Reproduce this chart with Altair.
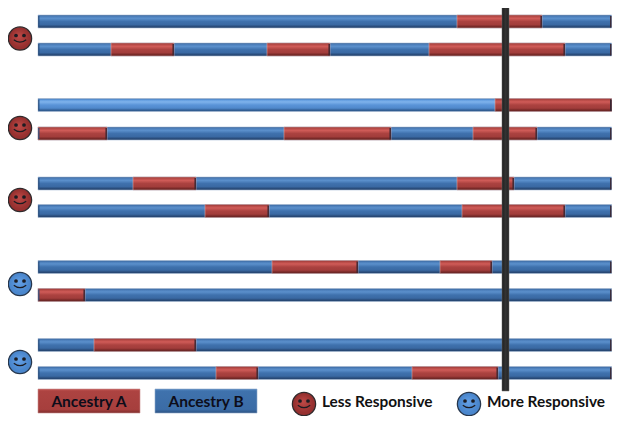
import altair as alt
import pandas as pd

# Ancestry tracks: vertical position of each track
track_y = [21.5, 49.5, 105, 133.5, 183.5, 211, 267, 295, 345, 373]
track_start = 38
track_end = 611.6
track_half = 6.5

# Base colour of each track
track_kind = ["blue", "blue", "light", "blue", "blue", "blue", "blue", "blue", "blue", "blue"]

# Ancestry A stretches on each track
red_start = [[457], [111, 267, 429], [495], [38, 284, 473], [133, 457], [205, 462], [272, 440], [38], [94], [216, 412]]
red_end = [[542], [174, 330, 565], [611.6], [107, 391, 537], [196, 514], [269, 565], [358, 492], [85], [196], [258, 498]]

# Marker line
marker_x = [502, 509]
marker_y = [4, 391]

# Responder faces
face_x = [20, 20, 20, 20, 20, 304, 469]
face_y = [38.5, 128, 200, 284, 362, 404, 404]
face_kind = ["red", "red", "red", "blue", "blue", "red", "blue"]

# Legend
legend_labels = ["Ancestry A", "Ancestry B"]
legend_x1 = [38, 155]
legend_x2 = [140, 257]
legend_y1 = [389, 389]
legend_y2 = [413, 413]
legend_kind = ["red", "blue"]
caption_labels = ["Less Responsive", "More Responsive"]
caption_x = [322, 487]
caption_y = [402, 402]

X = alt.Scale(domain=[8, 612], range=[0, 604])
Y = alt.Scale(domain=[8, 416], range=[0, 408])


def grad(stops):
    return alt.Gradient(
        gradient="linear", x1=0, x2=0, y1=0, y2=1,
        stops=[alt.GradientStop(offset=o, color=c) for o, c in stops],
    )


RED = grad([(0, "#8f3532"), (0.1, "#b34744"), (0.26, "#d05c58"), (0.5, "#ab4240"), (0.74, "#a23d3b"), (0.88, "#7a2a29"), (1, "#5e2322")])
BLUE = grad([(0, "#2f5a8e"), (0.1, "#4a7cb8"), (0.26, "#5b90cc"), (0.5, "#3f71ad"), (0.74, "#3a69a3"), (0.88, "#2a4d7c"), (1, "#223f66")])
LIGHT = grad([(0, "#356398"), (0.1, "#5f9ade"), (0.26, "#7fb3ec"), (0.5, "#5a94d8"), (0.74, "#5089cc"), (0.88, "#35639b"), (1, "#2a5080")])


def rects(df, fill, stroke):
    return alt.Chart(df).mark_rect(color=fill, stroke=stroke, strokeWidth=0.6).encode(
        x=alt.X("x1:Q", scale=X, axis=None),
        x2="x2:Q",
        y=alt.Y("y1:Q", scale=Y, axis=None),
        y2="y2:Q",
    )


def rules(df, color, width):
    return alt.Chart(df).mark_rule(color=color, strokeWidth=width).encode(
        x=alt.X("x:Q", scale=X, axis=None),
        y=alt.Y("y1:Q", scale=Y, axis=None),
        y2="y2:Q",
    )


base = pd.DataFrame({
    "x1": track_start, "x2": track_end,
    "y1": [y - track_half for y in track_y],
    "y2": [y + track_half for y in track_y],
    "kind": track_kind,
})

red_rows = []
for y, starts, ends in zip(track_y, red_start, red_end):
    for s, e in zip(starts, ends):
        red_rows.append({"x1": s, "x2": e, "y1": y - track_half, "y2": y + track_half})
reds = pd.DataFrame(red_rows)

end_rows = [{"x": r["x2"] - 0.8, "y1": r["y1"] + 1, "y2": r["y2"] - 0.5} for r in red_rows]
end_rows += [{"x": track_end - 0.8, "y1": y - track_half + 1, "y2": y + track_half - 0.5} for y in track_y]
ends_df = pd.DataFrame(end_rows)
start_df = pd.DataFrame([{"x": track_start + 0.8, "y1": y - track_half + 1, "y2": y + track_half - 1} for y in track_y])

layers = [
    rects(base[base.kind == "blue"], BLUE, "#a9bdd6"),
    rects(base[base.kind == "light"], LIGHT, "#a9bdd6"),
    rects(reds, RED, "#d3a9a8"),
    rules(ends_df, "#3a2530", 1.4),
    rules(start_df, "#2c4f7c", 1.2),
]

# Marker
marker = pd.DataFrame({"x1": [marker_x[0]], "x2": [marker_x[1]], "y1": [marker_y[0]], "y2": [marker_y[1]]})
layers.append(
    alt.Chart(marker).mark_rect(
        color=alt.Gradient(
            gradient="linear", x1=0, x2=1, y1=0, y2=0,
            stops=[
                alt.GradientStop(offset=0, color="#1f1f1f"),
                alt.GradientStop(offset=0.5, color="#333333"),
                alt.GradientStop(offset=1, color="#242424"),
            ],
        ),
        stroke="#6a6a6a",
        strokeWidth=0.5,
    ).encode(
        x=alt.X("x1:Q", scale=X, axis=None), x2="x2:Q",
        y=alt.Y("y1:Q", scale=Y, axis=None), y2="y2:Q",
    )
)

# Legend boxes
legend = pd.DataFrame({"x1": legend_x1, "x2": legend_x2, "y1": legend_y1, "y2": legend_y2,
                       "kind": legend_kind, "label": legend_labels})
LEG_RED = grad([(0, "#c05451"), (0.1, "#ad4341"), (0.85, "#a63f3d"), (1, "#7f2e2c")])
LEG_BLUE = grad([(0, "#5185bf"), (0.1, "#3f72ad"), (0.85, "#3b6ca6"), (1, "#2c5282")])
layers.append(rects(legend[legend.kind == "red"], LEG_RED, "#c98f8d"))
layers.append(rects(legend[legend.kind == "blue"], LEG_BLUE, "#8fa9c9"))
legend["cx"] = [(a + b) / 2 for a, b in zip(legend_x1, legend_x2)]
legend["cy"] = [(a + b) / 2 + 0.5 for a, b in zip(legend_y1, legend_y2)]
layers.append(
    alt.Chart(legend).mark_text(font="Lato", fontWeight="bold", fontSize=15.5, color="#0d0d1a").encode(
        x=alt.X("cx:Q", scale=X, axis=None),
        y=alt.Y("cy:Q", scale=Y, axis=None),
        text="label:N",
    )
)
captions = pd.DataFrame({"x": caption_x, "y": caption_y, "label": caption_labels})
layers.append(
    alt.Chart(captions).mark_text(font="Lato", fontWeight="bold", fontSize=15.4, color="#111111", align="left").encode(
        x=alt.X("x:Q", scale=X, axis=None),
        y=alt.Y("y:Q", scale=Y, axis=None),
        text="label:N",
    )
)

# Faces
faces = pd.DataFrame({"x": face_x, "y": face_y, "kind": face_kind})


def radial(inner, outer):
    return alt.RadialGradient(
        gradient="radial", x1=0.45, y1=0.4, x2=0.5, y2=0.5, r1=0, r2=0.55,
        stops=[alt.GradientStop(offset=0, color=inner),
               alt.GradientStop(offset=0.75, color=outer),
               alt.GradientStop(offset=1, color=outer)],
    )


for kind, inner, outer, edge in [
    ("red", "#bf4a47", "#96302f", "#2f2a2c"),
    ("blue", "#64a0e6", "#4a86cc", "#26364c"),
]:
    layers.append(
        alt.Chart(faces[faces.kind == kind]).mark_point(
            shape="circle", filled=True, size=540, color=radial(inner, outer),
            stroke=edge, strokeWidth=1.3, opacity=1,
        ).encode(x=alt.X("x:Q", scale=X, axis=None), y=alt.Y("y:Q", scale=Y, axis=None))
    )

eyes = pd.DataFrame(
    [{"x": x + d, "y": y - 3} for x, y in zip(face_x, face_y) for d in (-4, 4)]
)
layers.append(
    alt.Chart(eyes).mark_point(shape="circle", filled=True, size=14, color="#1c1c22", opacity=1).encode(
        x=alt.X("x:Q", scale=X, axis=None), y=alt.Y("y:Q", scale=Y, axis=None)
    )
)
layers.append(
    alt.Chart(faces).mark_point(
        shape="M -0.8 0.15 Q 0 0.8 0.8 0.15", filled=False, size=240,
        stroke="#1c1c22", strokeWidth=1.2, opacity=1,
    ).encode(
        x=alt.X("x:Q", scale=X, axis=None),
        y=alt.Y("y:Q", scale=Y, axis=None),
    )
)

chart = (
    alt.layer(*layers)
    .properties(width=604, height=408, padding=0, autosize="none", background="white")
    .configure_view(stroke=None)
)
chart.save("out.html", embed_options={"renderer": "svg", "actions": False})
